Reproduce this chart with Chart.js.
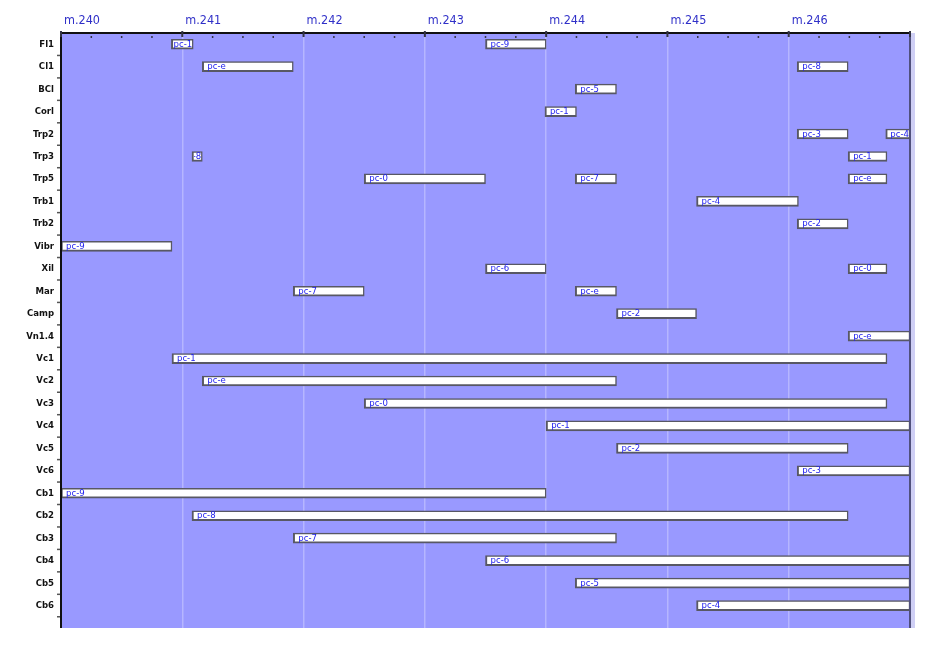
<!DOCTYPE html>
<html>
<head>
<meta charset="utf-8">
<script src="https://cdn.jsdelivr.net/npm/chart.js@4"></script>
<style>
  html, body { margin: 0; padding: 0; background: #ffffff; }
  #wrap { width: 950px; height: 645px; }
</style>
</head>
<body>
<div id="wrap"><canvas id="score_canvas" width="950" height="645"></canvas></div>
<script>
var rowNames = ['Fl1', 'Cl1', 'BCl', 'Corl', 'Trp2', 'Trp3', 'Trp5', 'Trb1', 'Trb2', 'Vibr', 'Xil', 'Mar', 'Camp', 'Vn1.4',
    'Vc1', 'Vc2', 'Vc3', 'Vc4', 'Vc5', 'Vc6', 'Cb1', 'Cb2', 'Cb3', 'Cb4', 'Cb5', 'Cb6'];

var measureTicks = [240, 241, 242, 243, 244, 245, 246];

// one entry per bar
var barRows = ['Fl1', 'Fl1', 'Cl1', 'Cl1', 'BCl', 'Corl', 'Trp2', 'Trp2', 'Trp3', 'Trp3', 'Trp5', 'Trp5', 'Trp5',
    'Trb1', 'Trb2', 'Vibr', 'Xil', 'Xil', 'Mar', 'Mar', 'Camp', 'Vn1.4',
    'Vc1', 'Vc2', 'Vc3', 'Vc4', 'Vc5', 'Vc6', 'Cb1', 'Cb2', 'Cb3', 'Cb4', 'Cb5', 'Cb6'];
var barStarts = [240.91, 243.5, 241.165, 246.07, 244.24, 243.99, 246.07, 246.8, 241.08, 246.49, 242.5, 244.24, 246.49,
    245.24, 246.07, 240.0, 243.5, 246.49, 241.915, 244.24, 244.58, 246.49,
    240.915, 241.165, 242.5, 244.0, 244.58, 246.07, 240.0, 241.08, 241.915, 243.5, 244.24, 245.24];
var barEnds = [241.09, 244.0, 241.915, 246.49, 244.58, 244.25, 246.49, 247.0, 241.165, 246.81, 243.5, 244.58, 246.81,
    246.08, 246.49, 240.915, 244.0, 246.81, 242.5, 244.58, 245.24, 247.0,
    246.81, 244.58, 246.81, 247.0, 246.49, 247.0, 244.0, 246.49, 244.58, 247.0, 247.0, 247.0];
var barLabels = ['pc-1', 'pc-9', 'pc-e', 'pc-8', 'pc-5', 'pc-1', 'pc-3', 'pc-4', 'pc-8', 'pc-1', 'pc-0', 'pc-7', 'pc-e',
    'pc-4', 'pc-2', 'pc-9', 'pc-6', 'pc-0', 'pc-7', 'pc-e', 'pc-2', 'pc-e',
    'pc-1', 'pc-e', 'pc-0', 'pc-1', 'pc-2', 'pc-3', 'pc-9', 'pc-8', 'pc-7', 'pc-6', 'pc-5', 'pc-4'];

var narrow = "'DejaVu Sans Condensed', 'Liberation Sans Narrow', 'Liberation Sans', sans-serif";

// background, frame and small tick marks
var framePlugin = {
    id: 'frame',
    beforeDraw: function (chart) {
        var ctx = chart.ctx, a = chart.chartArea;
        ctx.save();
        ctx.fillStyle = '#9999ff';
        ctx.fillRect(a.left, a.top, a.right - a.left, a.bottom - a.top);
        ctx.fillStyle = '#cfcff5';
        ctx.fillRect(a.right, a.top, 5, a.bottom - a.top);
        ctx.restore();
    },
    afterDraw: function (chart) {
        var ctx = chart.ctx, a = chart.chartArea;
        var xs = chart.scales.x, ys = chart.scales.y;
        ctx.save();
        // right edge
        ctx.strokeStyle = '#50507c';
        ctx.lineWidth = 2;
        ctx.beginPath();
        ctx.moveTo(a.right, a.top);
        ctx.lineTo(a.right, a.bottom);
        ctx.stroke();
        // top axis
        ctx.strokeStyle = '#111111';
        ctx.lineWidth = 2;
        ctx.beginPath();
        ctx.moveTo(a.left, a.top);
        ctx.lineTo(a.right + 1, a.top);
        ctx.stroke();
        // left axis
        ctx.beginPath();
        ctx.moveTo(a.left, a.top);
        ctx.lineTo(a.left, a.bottom);
        ctx.stroke();
        // quarter ticks on top axis
        ctx.strokeStyle = '#333344';
        for (var q = 0; q <= 28; q++) {
            var px = xs.getPixelForValue(240 + q / 4);
            ctx.beginPath();
            if (q % 4 === 0) {
                ctx.lineWidth = 2;
                ctx.moveTo(px, a.top - 2);
                ctx.lineTo(px, a.top + 4);
            } else {
                ctx.lineWidth = 1.5;
                ctx.moveTo(px, a.top + 3);
                ctx.lineTo(px, a.top + 5);
            }
            ctx.stroke();
        }
        // row boundary ticks on left axis
        ctx.strokeStyle = '#555555';
        ctx.lineWidth = 1.5;
        for (var r = 0; r < rowNames.length; r++) {
            var py = ys.getPixelForValue(r + 0.5);
            ctx.beginPath();
            ctx.moveTo(a.left - 4, py);
            ctx.lineTo(a.left - 1, py);
            ctx.stroke();
        }
        ctx.restore();
    }
};

// names written inside the bars
var barTextPlugin = {
    id: 'barText',
    afterDatasetsDraw: function (chart) {
        var ctx = chart.ctx, a = chart.chartArea;
        var meta = chart.getDatasetMeta(0);
        ctx.save();
        ctx.font = '9.5px ' + narrow;
        ctx.fillStyle = '#2222ee';
        ctx.textBaseline = 'middle';
        meta.data.forEach(function (bar, i) {
            var left = Math.min(bar.x, bar.base), right = Math.max(bar.x, bar.base);
            var top = bar.y - bar.height / 2;
            var text = barLabels[i];
            var tw = ctx.measureText(text).width;
            ctx.save();
            ctx.beginPath();
            ctx.rect(left + 2, top, Math.min(right, a.right) - left - 2.5, bar.height);
            ctx.clip();
            if (tw > right - left - 7) {
                ctx.textAlign = 'right';
                ctx.fillText(text, right - 1, bar.y);
            } else {
                ctx.textAlign = 'left';
                ctx.fillText(text, left + 5, bar.y);
            }
            ctx.restore();
        });
        ctx.restore();
    }
};

function score_chart() {
    var ctx2 = document.getElementById('score_canvas');
    var bars = [];
    for (var i = 0; i < barRows.length; i++) {
        bars.push({ x: [barStarts[i], barEnds[i]], y: rowNames.indexOf(barRows[i]) });
    }
    new Chart(ctx2, {
        type: 'bar',
        data: {
            datasets: [{
                data: bars,
                backgroundColor: '#ffffff',
                borderColor: '#585864',
                borderWidth: { left: 2, bottom: 2, top: 1.5, right: 1.5 },
                borderSkipped: false,
                barThickness: 10
            }]
        },
        plugins: [framePlugin, barTextPlugin],
        options: {
            responsive: false,
            animation: false,
            indexAxis: 'y',
            layout: { padding: { left: 0, top: 0, right: 40, bottom: 17 } },
            plugins: {
                legend: { display: false },
                tooltip: { enabled: false }
            },
            scales: {
                x: {
                    type: 'linear',
                    position: 'top',
                    min: 240,
                    max: 247,
                    offset: false,
                    afterFit: function (scale) { scale.height = 33; },
                    afterBuildTicks: function (scale) {
                        var t = [];
                        for (var q = 0; q <= 28; q++) t.push({ value: 240 + q / 4 });
                        scale.ticks = t;
                    },
                    border: { display: false },
                    grid: {
                        drawTicks: false,
                        lineWidth: 1.5,
                        color: function (c) {
                            var v = c.tick ? c.tick.value : null;
                            return (v !== null && Number.isInteger(v) && v > 240 && v < 247) ? '#b6b6ff' : 'rgba(0,0,0,0)';
                        }
                    },
                    ticks: {
                        autoSkip: false,
                        maxRotation: 0,
                        align: 'start',
                        labelOffset: 3,
                        padding: 5,
                        color: '#3030c8',
                        font: { family: narrow, size: 12.5 },
                        callback: function (v) {
                            return measureTicks.indexOf(v) >= 0 ? 'm.' + v : '';
                        }
                    }
                },
                y: {
                    type: 'linear',
                    reverse: true,
                    min: -0.5,
                    max: 26,
                    offset: false,
                    afterFit: function (scale) { scale.width = 61; },
                    afterBuildTicks: function (scale) {
                        scale.ticks = rowNames.map(function (n, i) { return { value: i }; });
                    },
                    border: { display: false },
                    grid: { display: false, drawTicks: false },
                    ticks: {
                        autoSkip: false,
                        padding: 7,
                        color: '#111111',
                        font: { family: narrow, size: 9.5, weight: 'bold' },
                        callback: function (v) { return rowNames[v]; }
                    }
                }
            }
        }
    });
}

score_chart();
</script>
</body>
</html>
